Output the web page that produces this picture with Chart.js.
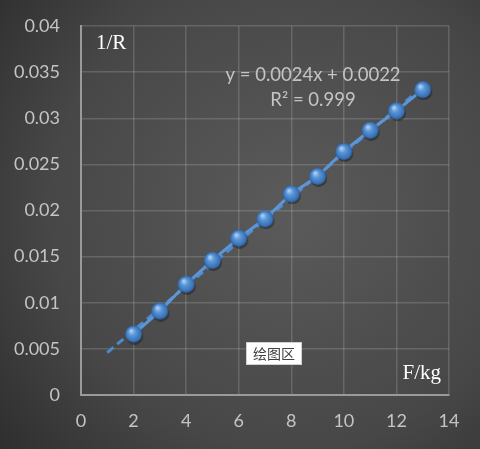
<!DOCTYPE html>
<html>
<head>
<meta charset="utf-8">
<script src="https://cdn.jsdelivr.net/npm/chart.js@4.4.1/dist/chart.umd.min.js"></script>
<style>
  html, body { margin: 0; padding: 0; background: #333; }
  #wrap { width: 480px; height: 449px; }
</style>
</head>
<body>
<div id="wrap"><canvas id="myChart" width="480" height="449"></canvas></div>
<script>
// measured values (F in kg, 1/R)
const forceKg = [2, 3, 4, 5, 6, 7, 8, 9, 10, 11, 12, 13];
const invR = [0.0066, 0.0091, 0.0120, 0.0146, 0.0170, 0.0191, 0.0218, 0.0237, 0.0264, 0.0287, 0.0308, 0.0331];

// linear trendline end points (y = 0.0024x + 0.0022)
const trendX = [1, 13];
const trendY = [0.0046, 0.0334];

const xTicks = [0, 2, 4, 6, 8, 10, 12, 14];
const yTicks = [0, 0.005, 0.01, 0.015, 0.02, 0.025, 0.03, 0.035, 0.04];

const equationText = "y = 0.0024x + 0.0022";
const r2Text = "R² = 0.999";
const yTitle = "1/R";
const xTitle = "F/kg";
const plotAreaTag = "绘图区";

// little shaded ball used as the marker
const makeBall = (r) => {
  const c = document.createElement("canvas");
  c.width = c.height = r * 2 + 4;
  const g = c.getContext("2d");
  const cx = r + 2, cy = r + 2;
  g.beginPath();
  g.arc(cx + 1, cy + 2, r, 0, Math.PI * 2);
  g.fillStyle = "rgba(0,0,0,0.35)";
  g.fill();
  const grad = g.createRadialGradient(cx - r * 0.3, cy - r * 0.4, r * 0.1, cx, cy, r);
  grad.addColorStop(0, "#a9cdf2");
  grad.addColorStop(0.35, "#5b97d8");
  grad.addColorStop(0.85, "#3a73b8");
  grad.addColorStop(1, "#2c5e9c");
  g.beginPath();
  g.arc(cx, cy, r, 0, Math.PI * 2);
  g.fillStyle = grad;
  g.fill();
  return c;
};
const ball = makeBall(8.5);

const bgPlugin = {
  id: "bg",
  beforeDraw: (chart) => {
    const { ctx, width, height } = chart;
    ctx.save();
    const grad = ctx.createRadialGradient(290, 210, 20, 290, 210, 420);
    grad.addColorStop(0, "#595959");
    grad.addColorStop(0.55, "#474747");
    grad.addColorStop(1, "#262626");
    ctx.fillStyle = grad;
    ctx.fillRect(0, 0, width, height);
    ctx.restore();
  },
};

const textPlugin = {
  id: "texts",
  afterDraw: (chart) => {
    const { ctx, chartArea: a } = chart;
    ctx.save();
    ctx.textBaseline = "middle";

    ctx.fillStyle = "#ffffff";
    ctx.font = "21px 'Liberation Serif'";
    ctx.textAlign = "left";
    ctx.fillText(yTitle, a.left + 15, a.top + 17);
    ctx.textAlign = "right";
    ctx.fillText(xTitle, a.right - 8, a.bottom - 22);

    ctx.fillStyle = "#c4c4c4";
    ctx.font = "18.5px Lato";
    ctx.textAlign = "center";
    ctx.fillText(equationText, 313, 75);
    ctx.fillText(r2Text, 313, 100);

    // the "plot area" tag box
    ctx.fillStyle = "#ffffff";
    ctx.fillRect(246, 342, 56, 23);
    ctx.strokeStyle = "#d0d0d0";
    ctx.lineWidth = 1;
    ctx.strokeRect(246.5, 342.5, 55, 22);
    ctx.fillStyle = "#404040";
    ctx.font = "14px 'Noto Sans CJK SC'";
    ctx.fillText(plotAreaTag, 274, 354);
    ctx.restore();
  },
};

const ctx = document.getElementById("myChart").getContext("2d");
const myChart = new Chart(ctx, {
  type: "scatter",
  data: {
    datasets: [
      {
        label: "trend",
        data: trendX.map((x, i) => ({ x, y: trendY[i] })),
        showLine: true,
        borderColor: "#4d8ad0",
        borderWidth: 3,
        borderDash: [8, 5],
        pointRadius: 0,
        order: 2,
      },
      {
        label: "1/R",
        data: forceKg.map((x, i) => ({ x, y: invR[i] })),
        showLine: true,
        borderColor: "#5b97d8",
        borderWidth: 3,
        pointStyle: ball,
        pointRadius: 9,
        order: 1,
      },
    ],
  },
  options: {
    responsive: false,
    animation: false,
    layout: { padding: { top: 26, right: 31, left: 0, bottom: 0 } },
    plugins: {
      legend: { display: false },
      tooltip: { enabled: false },
    },
    scales: {
      x: {
        type: "linear",
        min: 0,
        max: 14,
        afterBuildTicks: (s) => { s.ticks = xTicks.map((v) => ({ value: v })); },
        afterFit: (s) => { s.height = 54; },
        grid: { color: "rgba(200,200,200,0.22)", lineWidth: 1.5, drawTicks: false },
        border: { color: "#9a9a9a", width: 2 },
        ticks: {
          color: "#c4c4c4",
          font: { family: "Lato", size: 18 },
          padding: 15,
          maxRotation: 0,
        },
      },
      y: {
        type: "linear",
        min: 0,
        max: 0.04,
        afterBuildTicks: (s) => { s.ticks = yTicks.map((v) => ({ value: v })); },
        afterFit: (s) => {
          s.width = 81;
          s.paddingTop = 0;
          s.paddingBottom = 0;
        },
        grid: { color: "rgba(200,200,200,0.22)", lineWidth: 1.5, drawTicks: false },
        border: { color: "#9a9a9a", width: 2 },
        ticks: {
          color: "#c4c4c4",
          font: { family: "Lato", size: 18 },
          padding: 21,
          callback: (v) => String(Number(v.toFixed(3))),
        },
      },
    },
  },
  plugins: [bgPlugin, textPlugin],
});
</script>
</body>
</html>
